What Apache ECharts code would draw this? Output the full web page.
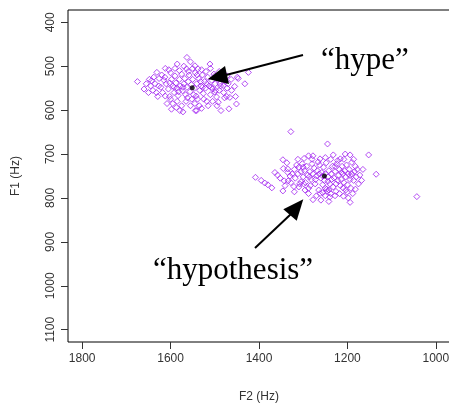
<!DOCTYPE html>
<html>
<head>
<meta charset="utf-8">
<script src="https://cdn.jsdelivr.net/npm/echarts@6/dist/echarts.min.js"></script>
<style>
html,body{margin:0;padding:0;background:#fff}
#main{width:449px;height:405px}
</style>
</head>
<body>
<div id="main"></div>
<script>
// tick labels
var f2Ticks = [1000, 1200, 1400, 1600, 1800];
var f1Ticks = [400, 500, 600, 700, 800, 900, 1000, 1100];

// [F2, F1] tokens of "hype"
var hypePoints = [
  [1563,480],[1675,535],[1660,552],[1643,533],[1631,514],[1604,508],[1626,528],[1629,569],
  [1613,525],[1587,594],[1579,601],[1544,601],[1545,499],[1564,506],[1511,495],[1538,506],
  [1447,528],[1424,514],[1432,540],[1455,546],[1481,544],[1473,569],[1466,571],[1453,569],
  [1451,586],[1468,597],[1486,601],[1492,582],[1500,559],[1541,601],[1602,569],[1449,525],
  [1610,540],[1605,552],[1598,530],[1595,545],[1592,560],[1590,522],[1588,538],[1585,550],
  [1583,567],[1580,530],[1578,545],[1575,518],[1573,556],[1570,540],[1568,528],[1566,565],
  [1563,548],[1560,535],[1558,520],[1556,558],[1553,542],[1550,530],[1548,565],[1546,550],
  [1544,515],[1541,540],[1539,575],[1536,528],[1534,555],[1531,545],[1528,520],[1526,562],
  [1523,535],[1521,550],[1518,580],[1516,525],[1513,545],[1510,565],[1507,532],[1505,552],
  [1502,518],[1499,540],[1496,570],[1493,530],[1490,555],[1487,545],[1484,520],[1480,560],
  [1476,535],[1472,550],[1618,560],[1622,548],[1615,532],[1627,545],[1635,540],[1640,555],
  [1645,545],[1650,560],[1600,575],[1595,585],[1585,580],[1575,590],[1565,580],[1555,590],
  [1545,585],[1535,590],[1525,575],[1515,590],[1505,580],[1495,590],[1600,515],[1590,505],
  [1580,510],[1570,500],[1560,512],[1550,505],[1540,520],[1530,508],[1520,512],[1510,505],
  [1500,522],[1490,512],[1620,520],[1612,568],[1608,585],[1632,560],[1638,525],[1648,530],
  [1655,540],[1562,572],[1552,575],[1542,568],[1532,535],[1572,548],[1582,558],[1592,548],
  [1602,538],[1528,548],[1518,540],[1508,548],[1498,555],[1488,540],[1478,572],[1470,540],
  [1462,555],[1463,530],[1472,522],[1598,598],[1572,604],[1530,596],[1612,505],[1585,495],
  [1555,490]
];

// [F2, F1] tokens of "hypothesis"
var hypothesisPoints = [
  [1328,649],[1408,753],[1387,766],[1380,770],[1371,777],[1364,742],[1346,713],[1337,720],
  [1345,733],[1335,734],[1343,761],[1334,761],[1341,772],[1346,784],[1320,786],[1321,774],
  [1310,730],[1300,730],[1305,763],[1245,677],[1152,702],[1135,746],[1043,797],[1194,810],
  [1278,804],[1209,796],[1175,768],[1182,780],[1194,749],[1182,728],[1190,719],[1205,700],
  [1194,702],[1232,702],[1288,704],[1278,704],[1262,711],[1216,711],[1247,780],[1250,795],
  [1210,777],[1201,787],[1284,772],[1395,760],
  [1325,745],[1320,735],[1318,755],[1315,725],[1312,745],[1308,768],[1305,740],[1302,722],
  [1300,752],[1297,738],[1295,765],[1292,728],[1290,748],[1288,778],[1285,740],[1282,758],
  [1280,722],[1278,745],[1275,732],[1273,768],[1270,750],[1268,738],[1265,782],[1263,725],
  [1260,755],[1258,742],[1256,770],[1254,730],[1252,760],[1250,745],[1248,720],[1246,785],
  [1244,752],[1242,738],[1240,768],[1238,790],[1236,745],[1234,728],[1232,775],[1230,755],
  [1228,740],[1226,785],[1224,722],[1222,760],[1220,748],[1218,735],[1216,772],[1214,758],
  [1212,728],[1210,745],[1208,765],[1206,738],[1204,752],[1202,725],[1200,770],[1198,745],
  [1196,735],[1194,758],[1192,778],[1190,745],[1186,760],[1184,740],[1180,752],[1178,735],
  [1256,788],[1250,778],[1242,782],[1262,790],[1270,795],[1240,798],[1228,795],[1218,790],
  [1288,790],[1296,782],[1310,775],[1330,750],[1335,742],[1328,765],[1352,755],[1358,748],
  [1312,712],[1298,710],[1280,712],[1266,718],[1250,708],[1238,712],[1222,715],[1208,712],
  [1228,728],[1244,762],[1256,750],[1264,745],[1272,758],[1286,752],[1299,768],[1236,758],
  [1214,742],[1226,768],[1204,782],[1188,790],[1198,800],[1260,805],[1242,808],[1186,712],
  [1172,748],[1168,760],[1165,735]
];

var hypeMean = [1551, 549];
var hypothesisMean = [1252, 750];

var chart = echarts.init(document.getElementById('main'));

var labelFont = {color: '#333', fontSize: 12, fontFamily: 'Liberation Sans, Arial, sans-serif'};
var purple = '#a020f0';
var plain = function (v) { return String(v); };

var option = {
  animation: false,
  grid: {
    left: 68, right: -1, top: 10, bottom: 63,
    outerBoundsMode: 'none',
    containLabel: false,
    show: true, borderColor: '#000', borderWidth: 1
  },
  xAxis: {
    type: 'value',
    inverse: true,
    min: 968, max: 1832,
    name: 'F2 (Hz)',
    nameLocation: 'middle',
    nameGap: 49,
    nameTextStyle: labelFont,
    axisLine: {show: false},
    axisTick: {show: true, length: 7, customValues: f2Ticks, lineStyle: {color: '#333'}},
    axisLabel: Object.assign({margin: 11, customValues: f2Ticks, formatter: plain}, labelFont),
    splitLine: {show: false}
  },
  yAxis: {
    type: 'value',
    inverse: true,
    min: 372, max: 1128,
    name: 'F1 (Hz)',
    nameLocation: 'middle',
    nameGap: 46,
    nameRotate: 90,
    nameTextStyle: labelFont,
    axisLine: {show: false},
    axisTick: {show: true, length: 7, customValues: f1Ticks, lineStyle: {color: '#333'}},
    axisLabel: Object.assign({margin: 11, rotate: 90, customValues: f1Ticks, formatter: plain}, labelFont),
    splitLine: {show: false}
  },
  series: [
    {
      type: 'scatter',
      data: hypePoints,
      symbol: 'diamond',
      symbolSize: 6,
      itemStyle: {color: 'rgba(0,0,0,0)', borderColor: purple, borderWidth: 1}
    },
    {
      type: 'scatter',
      data: hypothesisPoints,
      symbol: 'diamond',
      symbolSize: 6,
      itemStyle: {color: 'rgba(0,0,0,0)', borderColor: purple, borderWidth: 1}
    },
    {
      type: 'scatter',
      data: [hypeMean, hypothesisMean],
      symbol: 'circle',
      symbolSize: 5,
      z: 5,
      itemStyle: {color: '#000'}
    }
  ],
  graphic: [
    {type: 'line', z: 100, shape: {x1: 303, y1: 55, x2: 226, y2: 75}, style: {stroke: '#000', lineWidth: 2}},
    {type: 'polygon', z: 100, shape: {points: [[208, 79], [225, 66], [229, 84]]}, style: {fill: '#000'}},
    {type: 'line', z: 100, shape: {x1: 255, y1: 248, x2: 291, y2: 214}, style: {stroke: '#000', lineWidth: 2}},
    {type: 'polygon', z: 100, shape: {points: [[303.3, 199.3], [283.3, 209.3], [296.7, 220.7]]}, style: {fill: '#000'}},
    {type: 'text', z: 100, x: 321, y: 61, style: {text: '\u201chype\u201d', fill: '#000',
      font: '31px "Liberation Serif", "Times New Roman", serif', textAlign: 'left', textVerticalAlign: 'middle'}},
    {type: 'text', z: 100, x: 153, y: 271, style: {text: '\u201chypothesis\u201d', fill: '#000',
      font: '31px "Liberation Serif", "Times New Roman", serif', textAlign: 'left', textVerticalAlign: 'middle'}}
  ]
};

chart.setOption(option);
window.addEventListener('resize', function () { chart.resize(); });
</script>
</body>
</html>
